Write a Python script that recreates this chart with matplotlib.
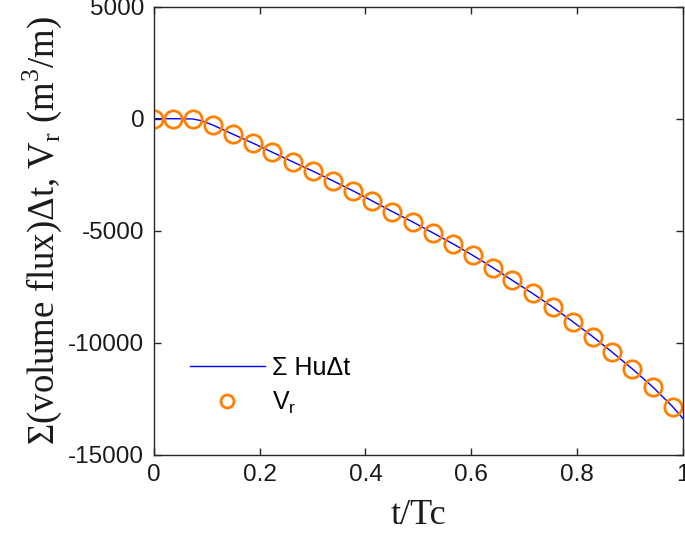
import numpy as np
import matplotlib.pyplot as plt

# t/Tc sample points (markers)
t_vr = [0.0, 0.036, 0.073, 0.111, 0.150, 0.188, 0.224, 0.262, 0.300, 0.338,
        0.376, 0.413, 0.451, 0.489, 0.527, 0.565, 0.603, 0.641, 0.678, 0.716,
        0.754, 0.792, 0.830, 0.867, 0.905, 0.943, 0.981]
vr = [0, 0, 0, -280, -700, -1100, -1500, -1920, -2335, -2770,
      -3215, -3675, -4150, -4605, -5090, -5580, -6100, -6650, -7220, -7800,
      -8410, -9060, -9730, -10430, -11175, -11965, -12855]

# cumulative flux curve
t_hu = [0.0, 0.036, 0.073, 0.09, 0.111, 0.150, 0.188, 0.224, 0.262, 0.300, 0.338,
        0.376, 0.413, 0.451, 0.489, 0.527, 0.565, 0.603, 0.641, 0.678, 0.716,
        0.754, 0.792, 0.830, 0.867, 0.905, 0.943, 0.981, 1.0]
hu = [0, 0, -10, -90, -280, -700, -1100, -1500, -1920, -2335, -2770,
      -3215, -3675, -4150, -4605, -5090, -5580, -6100, -6650, -7220, -7800,
      -8410, -9060, -9730, -10430, -11175, -11965, -12855, -13370]

plt.rcParams['font.family'] = 'Liberation Sans'
plt.rcParams['axes.unicode_minus'] = False

fig = plt.figure(figsize=(6.85, 5.34), dpi=100)
ax = fig.add_axes([154/685, 1-454.7/534, 528.7/685, 448/534])

ax.plot(t_hu, hu, color='#0000ff', lw=1.0, label='Σ HuΔt')
ax.plot(t_vr, vr, 'o', ms=12.5, mfc='none', mec='#ff8000', mew=2.0,
        label='V$_\\mathregular{r}$')

ax.set_xlim(0, 1)
ax.set_ylim(-15000, 5000)
ax.set_xticks([0, 0.2, 0.4, 0.6, 0.8, 1])
ax.set_xticklabels(['0', '0.2', '0.4', '0.6', '0.8', '1'])
ax.set_yticks([-15000, -10000, -5000, 0, 5000])

for s in ax.spines.values():
    s.set_color('#262626')
    s.set_linewidth(1.0)
ax.tick_params(direction='in', length=5, width=1, color='#262626',
               labelsize=17.5, labelcolor='#1a1a1a', top=True, right=True, pad=7)

ax.set_xlabel('t/Tc', family='Liberation Serif', fontsize=26, color='#1a1a1a', labelpad=9)
ax.set_ylabel('Σ(volume flux)Δt, V$_\\mathregular{r}$ (m$^\\mathregular{3}$/m)',
              family='Liberation Serif', fontsize=26.5, color='#1a1a1a', labelpad=3)

ax.legend(loc='lower left', bbox_to_anchor=(0.044, 0.058), frameon=False,
          fontsize=18, handlelength=3.0, handletextpad=0.3, labelspacing=0.4,
          borderpad=0, markerscale=0.75)

fig.savefig('out.png', dpi=100)
